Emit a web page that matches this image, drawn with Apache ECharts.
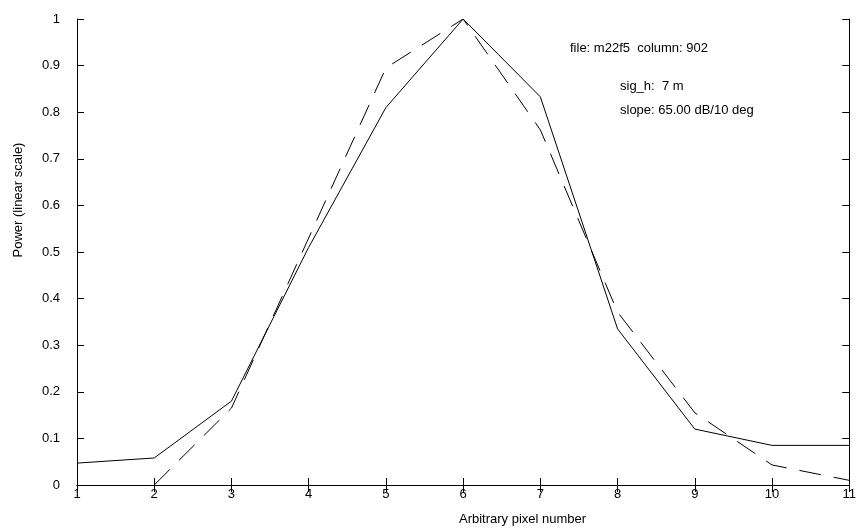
<!DOCTYPE html>
<html>
<head>
<meta charset="utf-8">
<script src="https://cdn.jsdelivr.net/npm/echarts@6/dist/echarts.min.js"></script>
<style>
    html, body { margin: 0; padding: 0; background: #fff; }
    #chart { width: 859px; height: 531px; }
</style>
</head>
<body>
<div id="chart"></div>
<script>
// pixel numbers
var pixels = [1, 2, 3, 4, 5, 6, 7, 8, 9, 10, 11];
// solid line
var measured = [0.047, 0.058, 0.18, 0.51, 0.81, 1.0, 0.833, 0.335, 0.12, 0.085, 0.085];
// dashed line (nothing drawn at pixel 1)
var model = [null, 0.0, 0.165, 0.53, 0.895, 1.0, 0.762, 0.371, 0.155, 0.043, 0.01];

var infoLines = ['file: m22f5  column: 902', 'sig_h:  7 m', 'slope: 65.00 dB/10 deg'];
var xTitle = 'Arbitrary pixel number';
var yTitle = 'Power (linear scale)';

function pairs(xs, ys) {
    var out = [];
    for (var i = 0; i < xs.length; i++) {
        if (ys[i] !== null) {
            out.push([xs[i], ys[i]]);
        }
    }
    return out;
}

var chart = echarts.init(document.getElementById('chart'));
var font = 'Liberation Sans, Arial, sans-serif';

var option = {
    backgroundColor: '#fff',
    animation: false,
    grid: {
        left: 77,
        right: 6,
        top: 19,
        bottom: 46
    },
    xAxis: [
        {
            type: 'value',
            min: 1,
            max: 11,
            interval: 1,
            axisLine: {show: true, lineStyle: {color: '#000', width: 1}},
            axisTick: {show: true, inside: true, length: 7, lineStyle: {color: '#000'}},
            axisLabel: {color: '#000', fontSize: 13, fontFamily: font, margin: 3},
            splitLine: {show: false}
        },
        {
            type: 'value',
            position: 'top',
            min: 1,
            max: 11,
            interval: 1,
            axisLine: {show: true, lineStyle: {color: '#000', width: 1}},
            axisTick: {show: true, inside: true, length: 7, lineStyle: {color: '#000'}},
            axisLabel: {show: false},
            splitLine: {show: false}
        }
    ],
    yAxis: [
        {
            type: 'value',
            min: 0,
            max: 1,
            interval: 0.1,
            axisLine: {show: true, lineStyle: {color: '#000', width: 1}},
            axisTick: {show: true, inside: true, length: 7, lineStyle: {color: '#000'}},
            axisLabel: {
                color: '#000', fontSize: 13, fontFamily: font, margin: 17,
                formatter: function (v) { return String(Math.round(v * 10) / 10); }
            },
            splitLine: {show: false}
        },
        {
            type: 'value',
            position: 'right',
            min: 0,
            max: 1,
            interval: 0.1,
            axisLine: {show: true, lineStyle: {color: '#000', width: 1}},
            axisTick: {show: true, inside: true, length: 7, lineStyle: {color: '#000'}},
            axisLabel: {show: false},
            splitLine: {show: false}
        }
    ],
    series: [
        {
            name: 'measured',
            type: 'line',
            data: pairs(pixels, measured),
            showSymbol: false,
            lineStyle: {color: '#000', width: 1}
        },
        {
            name: 'model',
            type: 'line',
            data: pairs(pixels, model),
            showSymbol: false,
            lineStyle: {color: '#000', width: 1, type: [22, 13]}
        }
    ],
    graphic: [
        {
            type: 'text', left: 570, top: 42,
            style: {text: infoLines[0], fill: '#000', font: '13px ' + font}
        },
        {
            type: 'text', left: 620, top: 80,
            style: {text: infoLines[1], fill: '#000', font: '13px ' + font}
        },
        {
            type: 'text', left: 620, top: 104,
            style: {text: infoLines[2], fill: '#000', font: '13px ' + font}
        },
        {
            type: 'text', left: 459, top: 513,
            style: {text: xTitle, fill: '#000', font: '13px ' + font}
        },
        {
            type: 'text', x: 18, y: 200, rotation: Math.PI / 2,
            style: {text: yTitle, fill: '#000', font: '13px ' + font,
                align: 'center', verticalAlign: 'middle'}
        }
    ]
};

chart.setOption(option);
</script>
</body>
</html>
